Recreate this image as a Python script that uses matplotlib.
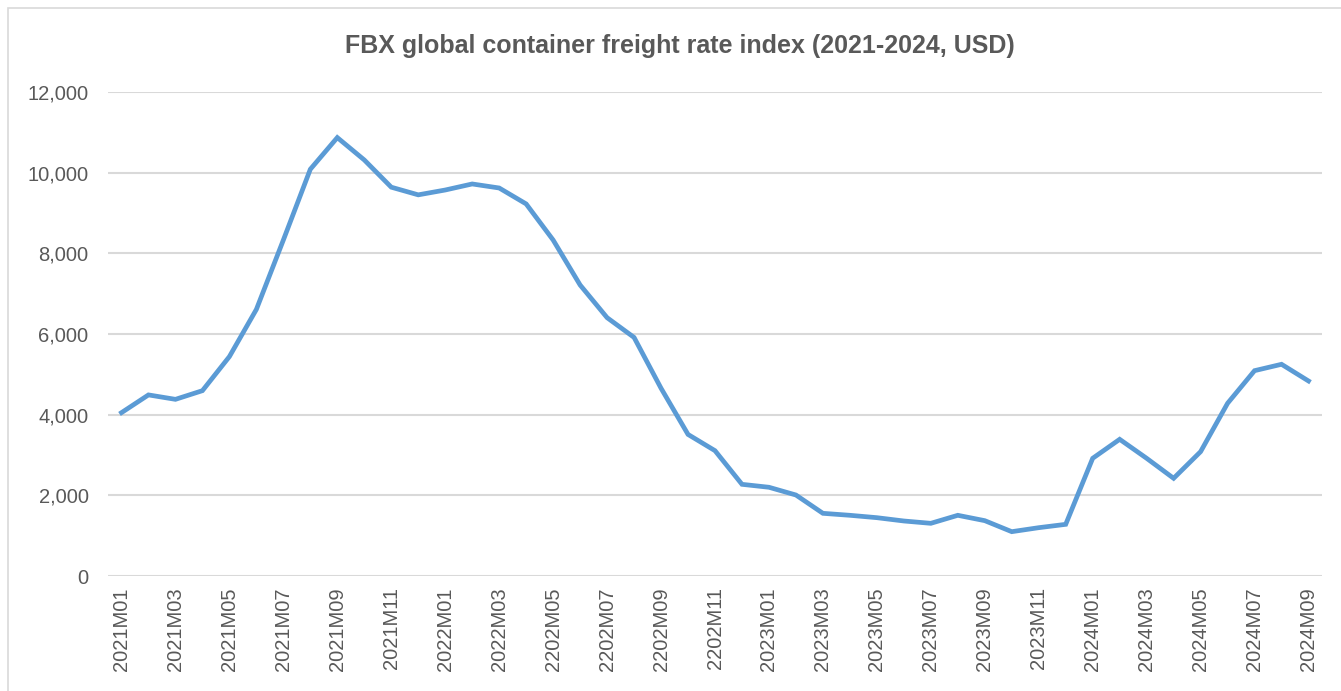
import matplotlib.pyplot as plt
from matplotlib.patches import Rectangle

plt.rcParams["font.family"] = ["Liberation Sans", "DejaVu Sans"]

# monthly index values, 2021M01 .. 2024M09
months = [f"{y}M{m:02d}" for y in (2021, 2022, 2023, 2024) for m in range(1, 13)][:45]
values = [
    4050, 4490, 4380, 4595, 5440, 6610, 8330, 10085, 10870, 10315, 9640, 9450,
    9570, 9720, 9620, 9225, 8330, 7215, 6405, 5915, 4655, 3510, 3107, 2273,
    2200, 2008, 1554, 1505, 1446, 1364, 1306, 1505, 1372, 1099, 1198, 1281,
    2918, 3389, 2918, 2422, 3083, 4282, 5091, 5249, 4835,
]
# tick labels as printed in the source (including its typos)
tick_labels = [
    "2021M01", "2021M03", "2021M05", "2021M07", "2021M09", "2021M11",
    "2022M01", "2022M03", "2202M05", "2202M07", "2202M09", "2202M11",
    "2023M01", "2023M03", "2023M05", "2023M07", "2023M09", "2023M11",
    "2024M01", "2024M03", "2024M05", "2024M07", "2024M09",
]
title = "FBX global container freight rate index (2021-2024, USD)"

fig = plt.figure(figsize=(13.41, 6.91), dpi=100)
ax = fig.add_axes([108 / 1341, 1 - 576 / 691, (1322 - 108) / 1341, (576 - 92) / 691])

x = list(range(len(values)))
ax.plot(x, values, color="#5B9BD5", linewidth=3.4, solid_joinstyle="miter", zorder=3)

ax.set_xlim(-0.5, len(values) - 0.5)
ax.set_ylim(0, 12000)
ax.set_yticks(range(0, 12001, 2000))
ax.set_yticklabels([f"{v:,}" for v in range(0, 12001, 2000)])
ax.set_xticks(x[::2])
ax.set_xticklabels(tick_labels, rotation=90)
ax.tick_params(length=0, labelsize=14.5, colors="#595959")
ax.tick_params(axis="y", pad=14)
ax.tick_params(axis="x", pad=8)
ax.grid(axis="y", color="#D9D9D9", linewidth=1.5)
ax.set_axisbelow(True)
for s in ax.spines.values():
    s.set_visible(False)

fig.text(679.5 / 1341, 1 - 53 / 691, title, ha="center", va="baseline",
         fontsize=18, fontweight="bold", color="#595959")

# outer chart border
fig.patches.append(Rectangle((8 / 1341, -0.1), 1.1, 1 - 8 / 691 + 0.1,
                             transform=fig.transFigure, fill=False,
                             edgecolor="#D9D9D9", linewidth=1.2))

fig.savefig("out.png", dpi=100)
